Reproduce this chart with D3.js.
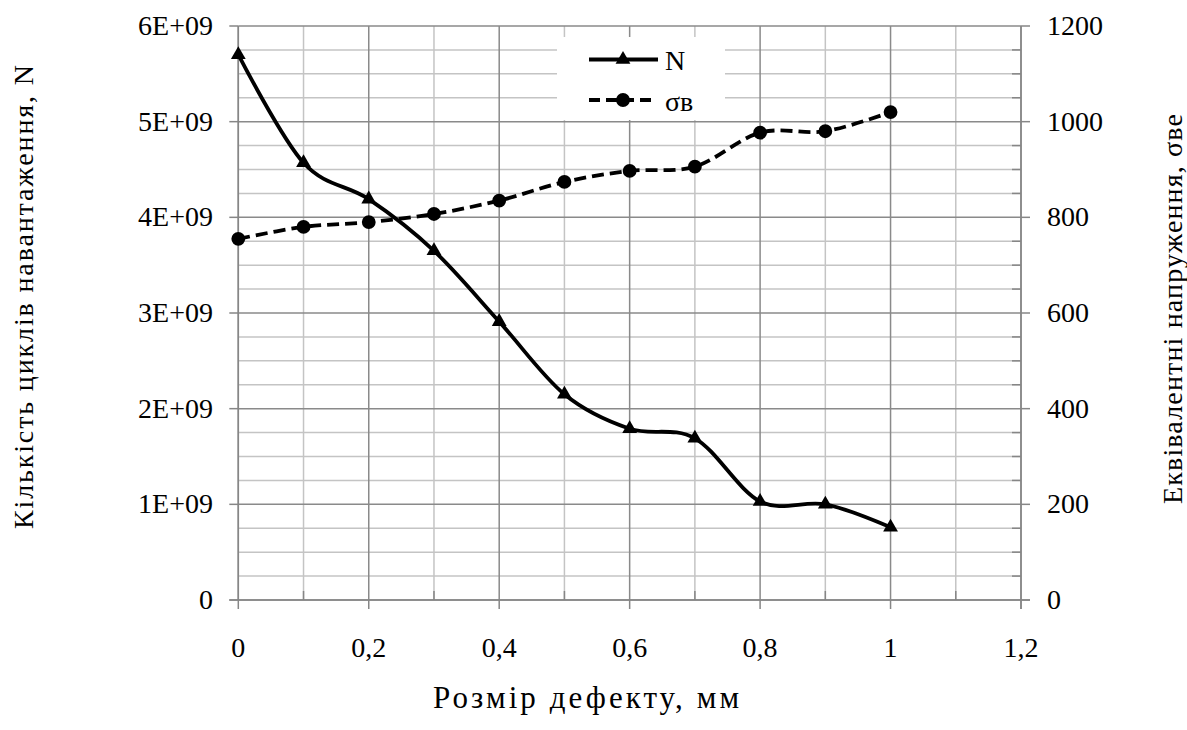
<!DOCTYPE html>
<html><head><meta charset="utf-8">
<script src="https://cdn.jsdelivr.net/npm/d3@7"></script>
<style>body{margin:0;background:#fff}svg{display:block}</style>
</head><body><svg id="c" width="1187" height="730"></svg>
<script>
const xValues = [0, 0.1, 0.2, 0.3, 0.4, 0.5, 0.6, 0.7, 0.8, 0.9, 1.0];
const nValues = [5.70e9, 4.57e9, 4.19e9, 3.65e9, 2.91e9, 2.15e9, 1.79e9, 1.69e9, 1.03e9, 1.00e9, 0.76e9];
const sigmaValues = [755, 780, 790, 807, 835, 874, 897, 906, 977, 980, 1020];
const xTicks = [0, 0.2, 0.4, 0.6, 0.8, 1.0, 1.2];
const xTickLabels = ["0", "0,2", "0,4", "0,6", "0,8", "1", "1,2"];
const leftTicks = [0, 1e9, 2e9, 3e9, 4e9, 5e9, 6e9];
const leftTickLabels = ["0", "1E+09", "2E+09", "3E+09", "4E+09", "5E+09", "6E+09"];
const rightTicks = [0, 200, 400, 600, 800, 1000, 1200];
const rightTickLabels = ["0", "200", "400", "600", "800", "1000", "1200"];
const seriesNames = ["N", "σв"];
const xTitle = "Розмір дефекту, мм";
const leftTitle = "Кількість циклів навантаження,  N";
const rightTitle = "Еквівалентні напруження, σве";

const L = 238.3, R = 1021, T = 26, B = 600;
const FS = 28;
const svg = d3.select("#c");
const x = d3.scaleLinear().domain([0, 1.2]).range([L, R]);
const yL = d3.scaleLinear().domain([0, 6e9]).range([B, T]);
const yR = d3.scaleLinear().domain([0, 1200]).range([B, T]);

const minorCol = "#c4c4c4", majorCol = "#8a8a8a", gw = 1.5;
const g = svg.append("g");
const hMinor = d3.range(0, 6e9 + 1, 0.25e9).filter(v => Math.round(v / 1e9 * 100) % 100 !== 0);
g.selectAll(".hm").data(hMinor).join("line")
  .attr("x1", L).attr("x2", R).attr("y1", d => yL(d)).attr("y2", d => yL(d))
  .attr("stroke", minorCol).attr("stroke-width", gw);
const vMinor = [0.1, 0.3, 0.5, 0.7, 0.9, 1.1];
g.selectAll(".vm").data(vMinor).join("line")
  .attr("x1", d => x(d)).attr("x2", d => x(d)).attr("y1", T).attr("y2", B)
  .attr("stroke", minorCol).attr("stroke-width", gw);
g.selectAll(".hM").data(leftTicks).join("line")
  .attr("x1", L).attr("x2", R).attr("y1", d => yL(d)).attr("y2", d => yL(d))
  .attr("stroke", majorCol).attr("stroke-width", gw);
g.selectAll(".vM").data(xTicks).join("line")
  .attr("x1", d => x(d)).attr("x2", d => x(d)).attr("y1", T).attr("y2", B)
  .attr("stroke", majorCol).attr("stroke-width", gw);

const ax = svg.append("g").attr("stroke", "#868686").attr("stroke-width", gw);
ax.append("line").attr("x1", L - 9).attr("x2", R + 9).attr("y1", B).attr("y2", B);
ax.append("line").attr("x1", L).attr("x2", L).attr("y1", T).attr("y2", B);
ax.append("line").attr("x1", R).attr("x2", R).attr("y1", T).attr("y2", B + 9);
ax.selectAll(".xt").data(xTicks).join("line")
  .attr("x1", d => x(d)).attr("x2", d => x(d)).attr("y1", B).attr("y2", B + 9);
ax.selectAll(".xmt").data(vMinor).join("line")
  .attr("x1", d => x(d)).attr("x2", d => x(d)).attr("y1", B - 9).attr("y2", B);
ax.selectAll(".lt").data(leftTicks).join("line")
  .attr("x1", L - 9).attr("x2", L).attr("y1", d => yL(d)).attr("y2", d => yL(d));
ax.selectAll(".rt").data(rightTicks).join("line")
  .attr("x1", R).attr("x2", R + 9).attr("y1", d => yR(d)).attr("y2", d => yR(d));
ax.selectAll(".rmt").data(hMinor).join("line")
  .attr("x1", R - 9).attr("x2", R).attr("y1", d => yL(d)).attr("y2", d => yL(d));

const txt = (sel, fs = FS) => sel.style("font-family", "Liberation Serif").style("font-size", fs + "px").attr("fill", "#000");
svg.selectAll(".xl").data(xTicks).join("text").call(txt)
  .attr("x", d => x(d)).attr("y", 657).attr("text-anchor", "middle")
  .text((d, i) => xTickLabels[i]);
svg.selectAll(".ll").data(leftTicks).join("text").call(txt)
  .attr("x", 213).attr("y", d => yL(d) + 9).attr("text-anchor", "end")
  .text((d, i) => leftTickLabels[i]);
svg.selectAll(".rl").data(rightTicks).join("text").call(txt)
  .attr("x", 1047).attr("y", d => yR(d) + 9).attr("text-anchor", "start")
  .text((d, i) => rightTickLabels[i]);

svg.append("text").call(txt, 31).attr("x", 586).attr("y", 708).attr("text-anchor", "middle")
  .attr("textLength", 306).attr("lengthAdjust", "spacing").text(xTitle);
svg.append("text").call(txt).attr("transform", "translate(33,297) rotate(-90)").attr("text-anchor", "middle")
  .attr("textLength", 464).attr("lengthAdjust", "spacing").text(leftTitle);
svg.append("text").call(txt).attr("transform", "translate(1182,309) rotate(-90)").attr("text-anchor", "middle")
  .attr("textLength", 390).attr("lengthAdjust", "spacing").text(rightTitle);

const curve = d3.curveCatmullRom.alpha(0);
const nData = xValues.map((v, i) => [v, nValues[i]]);
const sData = xValues.map((v, i) => [v, sigmaValues[i]]);
svg.append("path").datum(sData)
  .attr("d", d3.line().x(d => x(d[0])).y(d => yR(d[1])).curve(curve))
  .attr("fill", "none").attr("stroke", "#000").attr("stroke-width", 3.8).attr("stroke-dasharray", "12,6");
svg.append("path").datum(nData)
  .attr("d", d3.line().x(d => x(d[0])).y(d => yL(d[1])).curve(curve))
  .attr("fill", "none").attr("stroke", "#000").attr("stroke-width", 3.8);
const tri = d3.symbol().type(d3.symbolTriangle).size(95);
const circ = d3.symbol().type(d3.symbolCircle).size(150);
svg.selectAll(".sm").data(sData).join("path")
  .attr("transform", d => `translate(${x(d[0])},${yR(d[1])})`).attr("d", circ).attr("fill", "#000");
svg.selectAll(".nm").data(nData).join("path")
  .attr("transform", d => `translate(${x(d[0])},${yL(d[1])})`).attr("d", tri).attr("fill", "#000");

const lg = svg.append("g");
lg.append("rect").attr("x", 557).attr("y", 37).attr("width", 168).attr("height", 83).attr("fill", "#fff");
lg.append("line").attr("x1", 589).attr("x2", 658).attr("y1", 59.5).attr("y2", 59.5).attr("stroke", "#000").attr("stroke-width", 3.8);
lg.append("path").attr("transform", "translate(623,59.5)").attr("d", tri).attr("fill", "#000");
lg.append("text").call(txt).attr("x", 665).attr("y", 70).text(seriesNames[0]);
lg.append("line").attr("x1", 589).attr("x2", 654).attr("y1", 100).attr("y2", 100).attr("stroke", "#000").attr("stroke-width", 3.8).attr("stroke-dasharray", "11,6");
lg.append("path").attr("transform", "translate(623,100)").attr("d", circ).attr("fill", "#000");
lg.append("text").call(txt).attr("x", 665).attr("y", 111).text(seriesNames[1]);
</script></body></html>
